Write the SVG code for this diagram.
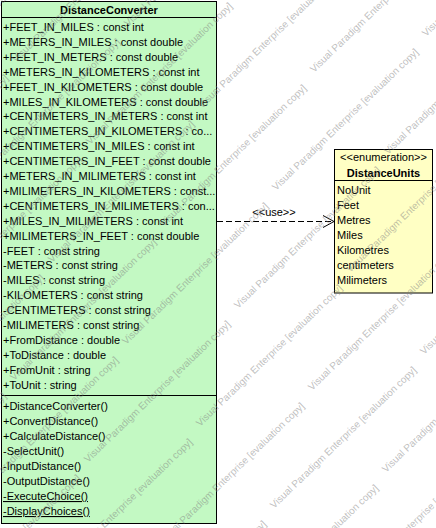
<svg xmlns="http://www.w3.org/2000/svg" width="436" height="528" viewBox="0 0 436 528">
<style>
.box{stroke:#000;stroke-width:1}
.cls{fill:#C3F9C3}
.enm{fill:#FFFFC4}
.t{font-family:"Liberation Sans",Arial,sans-serif;font-size:11px;fill:#000}
.b{font-weight:bold;text-anchor:middle}
.c{text-anchor:middle}
.sep{stroke:#000;stroke-width:1}
.wm{font-family:"Liberation Sans",Arial,sans-serif;font-size:10px;fill:#808080;fill-opacity:0.5}
</style>
<rect width="436" height="528" fill="#fff"/>
<g id="DistanceConverter">
<rect class="box cls" x="1.5" y="1.5" width="215" height="522"/>
<line class="sep" x1="1.5" y1="17.5" x2="216.5" y2="17.5"/>
<line class="sep" x1="1.5" y1="395.5" x2="216.5" y2="395.5"/>
<text class="t b" x="109" y="13.5">DistanceConverter</text>
<text class="t" x="3" y="31">+FEET_IN_MILES : const int</text>
<text class="t" x="3" y="45.9">+METERS_IN_MILES : const double</text>
<text class="t" x="3" y="60.8">+FEET_IN_METERS : const double</text>
<text class="t" x="3" y="75.7">+METERS_IN_KILOMETERS : const int</text>
<text class="t" x="3" y="90.6">+FEET_IN_KILOMETERS : const double</text>
<text class="t" x="3" y="105.5">+MILES_IN_KILOMETERS : const double</text>
<text class="t" x="3" y="120.4">+CENTIMETERS_IN_METERS : const int</text>
<text class="t" x="3" y="135.3">+CENTIMETERS_IN_KILOMETERS : co...</text>
<text class="t" x="3" y="150.2">+CENTIMETERS_IN_MILES : const int</text>
<text class="t" x="3" y="165.1">+CENTIMETERS_IN_FEET : const double</text>
<text class="t" x="3" y="180">+METERS_IN_MILIMETERS : const int</text>
<text class="t" x="3" y="194.9">+MILIMETERS_IN_KILOMETERS : const...</text>
<text class="t" x="3" y="209.8">+CENTIMETERS_IN_MILIMETERS : con...</text>
<text class="t" x="3" y="224.7">+MILES_IN_MILIMETERS : const int</text>
<text class="t" x="3" y="239.6">+MILIMETERS_IN_FEET : const double</text>
<text class="t" x="3" y="254.5">-FEET : const string</text>
<text class="t" x="3" y="269.4">-METERS : const string</text>
<text class="t" x="3" y="284.3">-MILES : const string</text>
<text class="t" x="3" y="299.2">-KILOMETERS : const string</text>
<text class="t" x="3" y="314.1">-CENTIMETERS : const string</text>
<text class="t" x="3" y="329">-MILIMETERS : const string</text>
<text class="t" x="3" y="343.9">+FromDistance : double</text>
<text class="t" x="3" y="358.8">+ToDistance : double</text>
<text class="t" x="3" y="373.7">+FromUnit : string</text>
<text class="t" x="3" y="388.6">+ToUnit : string</text>
<text class="t" x="3" y="410">+DistanceConverter()</text>
<text class="t" x="3" y="425">+ConvertDistance()</text>
<text class="t" x="3" y="440">+CalculateDistance()</text>
<text class="t" x="3" y="455">-SelectUnit()</text>
<text class="t" x="3" y="470">-InputDistance()</text>
<text class="t" x="3" y="485">-OutputDistance()</text>
<text class="t" x="3" y="500" text-decoration="underline">-ExecuteChoice()</text>
<text class="t" x="3" y="515" text-decoration="underline">-DisplayChoices()</text>
</g>
<g id="DistanceUnits">
<rect class="box enm" x="334.5" y="149.5" width="98" height="143.5"/>
<line class="sep" x1="334.5" y1="180.5" x2="432.5" y2="180.5"/>
<text class="t c" x="383.5" y="161">&lt;&lt;enumeration&gt;&gt;</text>
<text class="t b" x="383.5" y="177">DistanceUnits</text>
<text class="t" x="337" y="194.3">NoUnit</text>
<text class="t" x="337" y="209.3">Feet</text>
<text class="t" x="337" y="224.3">Metres</text>
<text class="t" x="337" y="239.3">Miles</text>
<text class="t" x="337" y="254.3">Kilometres</text>
<text class="t" x="337" y="269.3">centimeters</text>
<text class="t" x="337" y="284.3">Milimeters</text>
</g>
<g id="connectors">
<line x1="217" y1="221.5" x2="334" y2="221.5" stroke="#000" stroke-width="1" stroke-dasharray="6,3"/>
<polyline points="323,215.5 334,221.5 323,227.5" fill="none" stroke="#000" stroke-width="1"/>
<text class="t c" x="274" y="216">&lt;&lt;use&gt;&gt;</text>
</g>
<g id="watermark" class="wm">
<text transform="translate(128,27) rotate(-44)">Visual Paradigm Enterprise [evaluation copy]</text>
<text transform="translate(16,63) rotate(-44)">Visual Paradigm Enterprise [evaluation copy]</text>
<text transform="translate(-96,99) rotate(-44)">Visual Paradigm Enterprise [evaluation copy]</text>
<text transform="translate(426,37) rotate(-44)">Visual Paradigm Enterprise [evaluation copy]</text>
<text transform="translate(314,73) rotate(-44)">Visual Paradigm Enterprise [evaluation copy]</text>
<text transform="translate(202,109) rotate(-44)">Visual Paradigm Enterprise [evaluation copy]</text>
<text transform="translate(90,145) rotate(-44)">Visual Paradigm Enterprise [evaluation copy]</text>
<text transform="translate(-22,181) rotate(-44)">Visual Paradigm Enterprise [evaluation copy]</text>
<text transform="translate(-134,217) rotate(-44)">Visual Paradigm Enterprise [evaluation copy]</text>
<text transform="translate(388,155) rotate(-44)">Visual Paradigm Enterprise [evaluation copy]</text>
<text transform="translate(276,191) rotate(-44)">Visual Paradigm Enterprise [evaluation copy]</text>
<text transform="translate(164,227) rotate(-44)">Visual Paradigm Enterprise [evaluation copy]</text>
<text transform="translate(52,263) rotate(-44)">Visual Paradigm Enterprise [evaluation copy]</text>
<text transform="translate(-60,299) rotate(-44)">Visual Paradigm Enterprise [evaluation copy]</text>
<text transform="translate(350,273) rotate(-44)">Visual Paradigm Enterprise [evaluation copy]</text>
<text transform="translate(238,309) rotate(-44)">Visual Paradigm Enterprise [evaluation copy]</text>
<text transform="translate(126,345) rotate(-44)">Visual Paradigm Enterprise [evaluation copy]</text>
<text transform="translate(14,381) rotate(-44)">Visual Paradigm Enterprise [evaluation copy]</text>
<text transform="translate(-98,417) rotate(-44)">Visual Paradigm Enterprise [evaluation copy]</text>
<text transform="translate(424,355) rotate(-44)">Visual Paradigm Enterprise [evaluation copy]</text>
<text transform="translate(312,391) rotate(-44)">Visual Paradigm Enterprise [evaluation copy]</text>
<text transform="translate(200,427) rotate(-44)">Visual Paradigm Enterprise [evaluation copy]</text>
<text transform="translate(88,463) rotate(-44)">Visual Paradigm Enterprise [evaluation copy]</text>
<text transform="translate(-24,499) rotate(-44)">Visual Paradigm Enterprise [evaluation copy]</text>
<text transform="translate(-136,535) rotate(-44)">Visual Paradigm Enterprise [evaluation copy]</text>
<text transform="translate(386,473) rotate(-44)">Visual Paradigm Enterprise [evaluation copy]</text>
<text transform="translate(274,509) rotate(-44)">Visual Paradigm Enterprise [evaluation copy]</text>
<text transform="translate(162,545) rotate(-44)">Visual Paradigm Enterprise [evaluation copy]</text>
<text transform="translate(50,581) rotate(-44)">Visual Paradigm Enterprise [evaluation copy]</text>
<text transform="translate(-62,617) rotate(-44)">Visual Paradigm Enterprise [evaluation copy]</text>
<text transform="translate(348,591) rotate(-44)">Visual Paradigm Enterprise [evaluation copy]</text>
<text transform="translate(236,627) rotate(-44)">Visual Paradigm Enterprise [evaluation copy]</text>
<text transform="translate(124,663) rotate(-44)">Visual Paradigm Enterprise [evaluation copy]</text>
</g>
</svg>
